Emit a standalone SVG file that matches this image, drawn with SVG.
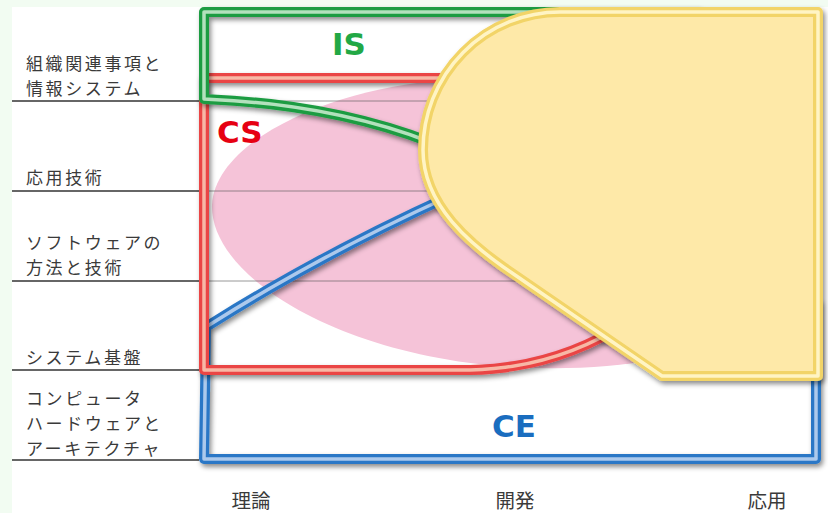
<svg xmlns="http://www.w3.org/2000/svg" width="828" height="513" viewBox="0 0 828 513">
<defs>
<filter id="sh" x="-10%" y="-10%" width="120%" height="130%">
<feDropShadow dx="2" dy="3" stdDeviation="2.5" flood-color="#000" flood-opacity="0.45"/>
</filter>
<style>
.lbl{font-family:"Noto Sans CJK JP","Noto Sans",sans-serif;font-size:17px;letter-spacing:2.6px;fill:#3a3a3a}
.ax{font-family:"Noto Sans CJK JP","Noto Sans",sans-serif;font-size:19.5px;fill:#3a3a3a}
.big{font-family:"DejaVu Sans","Liberation Sans",sans-serif;font-weight:bold;font-size:31px}
.axis{stroke:#333;stroke-width:1.6}
.grid{stroke:#555;stroke-width:1;stroke-opacity:0.6}
.o{fill:none;stroke-width:10;stroke-linejoin:round;stroke-linecap:butt}
.i{fill:none;stroke-width:3.5;stroke-linejoin:round;stroke-linecap:butt}
</style>
</defs>
<rect x="0" y="0" width="828" height="513" fill="#f2fcf2"/>
<rect x="12" y="7" width="816" height="506" fill="#ffffff"/>
<g id="axis-lines">
<line class="axis" x1="12" y1="101" x2="199" y2="101"/>
<line class="axis" x1="12" y1="191" x2="199" y2="191"/>
<line class="axis" x1="12" y1="281" x2="199" y2="281"/>
<line class="axis" x1="12" y1="370" x2="199" y2="370"/>
<line class="axis" x1="12" y1="460" x2="199" y2="460"/>
</g>
<g id="pink-area">
<path d="M450,80 C335,86 215,140 212,205 C210,275 335,355 510,367 C600,372 690,362 720,330 L720,80 Z" fill="#f5c3d8"/>
</g>
<g id="grid-lines">
<line class="grid" x1="208" y1="101" x2="816" y2="101"/>
<line class="grid" x1="208" y1="191" x2="816" y2="191"/>
<line class="grid" x1="208" y1="281" x2="816" y2="281"/>
</g>
<g id="CE" filter="url(#sh)">
<path class="o" stroke="#2a77c6" d="M450,196 Q320,255 206,327 L204,459 L816,459 L816,300"/>
<path class="i" stroke="#acc9ec" d="M450,196 Q320,255 206,327 L204,459 L816,459 L816,300"/>
</g>
<g id="CS" filter="url(#sh)">
<path class="o" stroke="#ea4545" d="M700,78 L204,78 L204,370 L470,370 C520,369 570,356 615,330"/>
<path class="i" stroke="#f7b8a6" d="M700,78 L204,78 L204,370 L470,370 C520,369 570,356 615,330"/>
</g>
<g id="IS" filter="url(#sh)">
<path class="o" stroke="#1d9c42" d="M430,142 C360,115 280,102 204,99 L204,12 L700,12"/>
<path class="i" stroke="#b3e1bd" d="M430,142 C360,115 280,102 204,99 L204,12 L700,12"/>
</g>
<g id="yellow-area" filter="url(#sh)">
<path d="M560,12 L818,12 L818,376 L662,376 L515,275 C470,245 423,205 423,150 A137,138 0 0 1 560,12 Z" fill="#fee9a8" stroke="#f2d467" stroke-width="10" stroke-linejoin="round"/>
<path d="M560,12 L818,12 L818,376 L662,376 L515,275 C470,245 423,205 423,150 A137,138 0 0 1 560,12 Z" fill="none" stroke="#fff4c4" stroke-width="3.5" stroke-linejoin="round"/>
</g>
<g id="labels">
<text class="big" x="332" y="55" fill="#22a845">IS</text>
<text class="big" x="217" y="143" fill="#e60012">CS</text>
<text class="big" x="492" y="437" fill="#1a6dbf">CE</text>
<text class="lbl" x="26" y="70">組織関連事項と<tspan x="26" y="95">情報システム</tspan></text>
<text class="lbl" x="26" y="184">応用技術</text>
<text class="lbl" x="26" y="249">ソフトウェアの<tspan x="26" y="274">方法と技術</tspan></text>
<text class="lbl" x="26" y="364">システム基盤</text>
<text class="lbl" x="26" y="405">コンピュータ<tspan x="26" y="430">ハードウェアと</tspan><tspan x="26" y="455">アーキテクチャ</tspan></text>
<text class="ax" x="251" y="508" text-anchor="middle">理論</text>
<text class="ax" x="515" y="508" text-anchor="middle">開発</text>
<text class="ax" x="767" y="508" text-anchor="middle">応用</text>
</g>
</svg>
